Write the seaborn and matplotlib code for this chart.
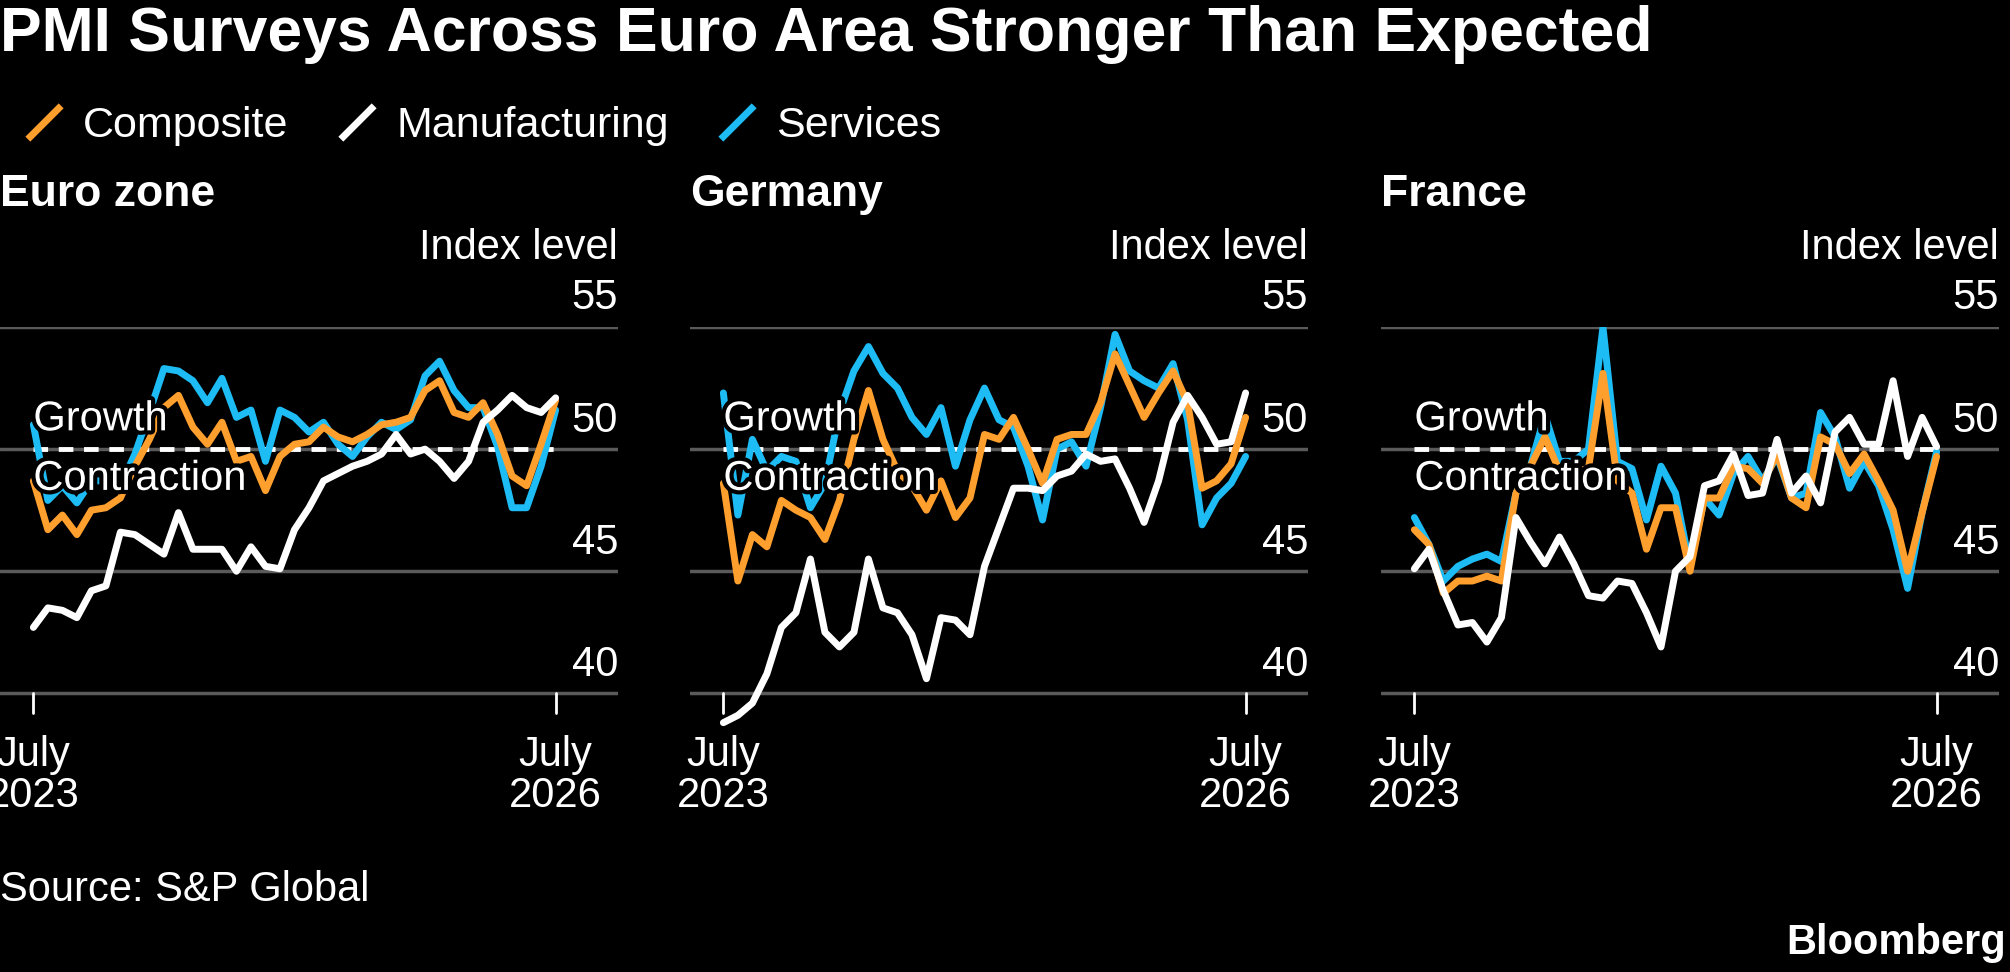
import numpy as np
import pandas as pd
import matplotlib
matplotlib.use("Agg")
import matplotlib.pyplot as plt
import matplotlib.patheffects as pe
from matplotlib.lines import Line2D
import seaborn as sns

# months since July 2023 (0 .. 36 = July 2026)
months = list(range(37))
countries = ["Euro zone", "Germany", "France"]

ez_composite = [48.7, 46.7, 47.3, 46.5, 47.5, 47.6, 48.0, 49.3, 50.4, 51.7, 52.2, 50.9, 50.2,
                51.1, 49.5, 49.7, 48.3, 49.7, 50.2, 50.3, 50.9, 50.5, 50.3, 50.6, 51.0, 51.1,
                51.3, 52.4, 52.8, 51.5, 51.3, 51.9, 50.6, 48.9, 48.5, 50.2, 52.0]
ez_services = [51.0, 47.9, 48.5, 47.8, 48.7, 48.7, 48.5, 49.8, 51.5, 53.3, 53.2, 52.8, 51.9,
               52.9, 51.3, 51.6, 49.5, 51.6, 51.3, 50.7, 51.1, 50.2, 49.7, 50.5, 51.1, 50.8,
               51.2, 53.0, 53.6, 52.4, 51.7, 51.7, 50.1, 47.6, 47.6, 49.3, 51.6]
ez_manufacturing = [42.7, 43.5, 43.4, 43.1, 44.2, 44.4, 46.6, 46.5, 46.1, 45.7, 47.4, 45.9, 45.9,
                    45.9, 45.0, 46.0, 45.2, 45.1, 46.7, 47.6, 48.7, 49.0, 49.3, 49.5, 49.8, 50.6,
                    49.8, 50.0, 49.5, 48.8, 49.5, 51.1, 51.6, 52.2, 51.7, 51.5, 52.1]

de_composite = [48.6, 44.6, 46.5, 46.0, 47.9, 47.5, 47.2, 46.3, 47.9, 50.4, 52.4, 50.4, 49.1,
                48.5, 47.5, 48.7, 47.2, 48.0, 50.6, 50.4, 51.3, 50.0, 48.6, 50.4, 50.6, 50.6,
                51.9, 53.9, 52.6, 51.3, 52.3, 53.2, 51.9, 48.4, 48.7, 49.4, 51.3]
de_services = [52.3, 47.3, 50.4, 49.1, 49.7, 49.5, 47.6, 48.6, 51.5, 53.2, 54.2, 53.1, 52.5,
               51.3, 50.6, 51.7, 49.3, 51.2, 52.5, 51.2, 50.9, 49.3, 47.1, 50.0, 50.3, 49.3,
               51.7, 54.7, 53.2, 52.8, 52.5, 53.5, 51.2, 46.9, 48.0, 48.6, 49.7]
de_manufacturing = [38.8, 39.1, 39.6, 40.8, 42.7, 43.3, 45.5, 42.5, 41.9, 42.5, 45.5, 43.5, 43.3,
                    42.4, 40.6, 43.1, 43.0, 42.4, 45.2, 46.8, 48.4, 48.4, 48.3, 48.9, 49.1, 49.8,
                    49.5, 49.6, 48.4, 47.0, 48.7, 51.1, 52.2, 51.3, 50.2, 50.3, 52.3]

fr_composite = [46.7, 46.1, 44.1, 44.6, 44.6, 44.8, 44.6, 48.2, 49.3, 50.5, 49.1, 49.1, 49.2,
                53.1, 48.7, 48.2, 45.9, 47.6, 47.6, 45.0, 48.0, 48.0, 49.3, 49.2, 48.6, 49.8,
                48.0, 47.6, 50.5, 50.2, 49.0, 49.8, 48.7, 47.5, 45.0, 47.4, 49.7]
fr_services = [47.2, 46.1, 44.6, 45.2, 45.5, 45.7, 45.4, 48.2, 49.3, 51.4, 49.5, 49.5, 50.0,
               55.0, 49.5, 49.2, 47.1, 49.3, 48.2, 45.2, 48.0, 47.3, 49.0, 49.7, 48.7, 49.7,
               48.0, 48.2, 51.5, 50.5, 48.4, 49.5, 48.5, 46.7, 44.3, 47.4, 49.9]
fr_manufacturing = [45.1, 45.9, 44.2, 42.8, 42.9, 42.1, 43.1, 47.2, 46.2, 45.3, 46.4, 45.3, 44.0,
                    43.9, 44.6, 44.5, 43.3, 41.9, 45.0, 45.6, 48.5, 48.7, 49.8, 48.1, 48.2, 50.4,
                    48.2, 48.9, 47.8, 50.7, 51.3, 50.2, 50.2, 52.8, 49.7, 51.3, 50.1]

series_names = ["Composite", "Manufacturing", "Services"]
colors = {"Composite": "#ff9f2e", "Manufacturing": "#ffffff", "Services": "#1ebcf5"}
y_ticks = [40, 45, 50, 55]
x_labels = ["July\n2023", "July\n2026"]

data = {
    "Euro zone": [ez_composite, ez_manufacturing, ez_services],
    "Germany": [de_composite, de_manufacturing, de_services],
    "France": [fr_composite, fr_manufacturing, fr_services],
}
rows = []
for c in countries:
    for name, vals in zip(series_names, data[c]):
        for m, v in zip(months, vals):
            rows.append({"country": c, "series": name, "month": m, "value": v})
df = pd.DataFrame(rows)

sns.set_theme(style="dark")
plt.rcParams["font.family"] = ["Liberation Sans", "DejaVu Sans"]
plt.rcParams["text.color"] = "white"

fig = plt.figure(figsize=(20.1, 9.72), dpi=100, facecolor="black")
W, H = 2010, 972
lefts = [0, 690, 1381]
pw = 618
top_px, bot_px = 327, 730

fs = 30
outline = [pe.withStroke(linewidth=6, foreground="black")]
for c, lx in zip(countries, lefts):
    ax = fig.add_axes([lx / W, 1 - bot_px / H, pw / W, (bot_px - top_px) / H])
    ax.set_facecolor("black")
    for yv in y_ticks:
        ax.axhline(yv, color="#5a5a5a", lw=2.5, zorder=0)
        ax.text(1, yv + 0.35, str(yv), transform=ax.get_yaxis_transform(),
                ha="right", va="bottom", fontsize=fs, color="white")
    ax.text(1, 1.195, "Index level", transform=ax.transAxes, ha="right", va="center",
            fontsize=fs, color="white")
    ax.text(0, 1.33, c, transform=ax.transAxes, ha="left", va="center",
            fontsize=fs + 2, fontweight="bold", color="white")
    for m, lab in zip([0, 36], x_labels):
        ax.plot([m, m], [40, 39.2], color="white", lw=2, clip_on=False)
        ax.text(m, 38.3, lab, ha="center", va="top", fontsize=fs, color="white",
                linespacing=1.05)
    ax.plot([0, 36], [50, 50], color="white", lw=3.5, ls=(0, (3, 2.2)), zorder=3)
    sub = df[df.country == c]
    sns.lineplot(data=sub, x="month", y="value", hue="series", palette=colors,
                 hue_order=["Services", "Composite", "Manufacturing"],
                 lw=5, legend=False, ax=ax, zorder=4)
    ax.text(0, 50.4, "Growth", ha="left", va="bottom", fontsize=fs, color="white",
            path_effects=outline, zorder=5)
    ax.text(0, 49.6, "Contraction", ha="left", va="top", fontsize=fs, color="white",
            path_effects=outline, zorder=5)
    ax.set_xlim(-2.3, 40.3)
    ax.set_ylim(38.5, 55)
    ax.set_xticks([])
    ax.set_yticks([])
    ax.set_xlabel("")
    ax.set_ylabel("")
    for s in ax.spines.values():
        s.set_visible(False)

fig.text(0.0, 1 - 35 / H, "PMI Surveys Across Euro Area Stronger Than Expected",
         ha="left", va="center", fontsize=45, fontweight="bold")

handles = [Line2D([], [], color=colors[n], marker=[(-1, -1), (1, 1)], markersize=24,
                  markeredgewidth=5, linestyle="none") for n in series_names]
fig.legend(handles, series_names, loc="center left", bbox_to_anchor=(-0.008, 1 - 126 / H),
           ncol=3, frameon=False, fontsize=fs + 1, handlelength=1.0, handletextpad=0.4,
           columnspacing=1.1, labelcolor="white")

fig.text(0.0, 1 - 890 / H, "Source: S&P Global", ha="left", va="center", fontsize=fs)
fig.text(0.998, 1 - 943 / H, "Bloomberg", ha="right", va="center", fontsize=fs,
         fontweight="bold")

fig.savefig("out.png", dpi=100, facecolor="black")
